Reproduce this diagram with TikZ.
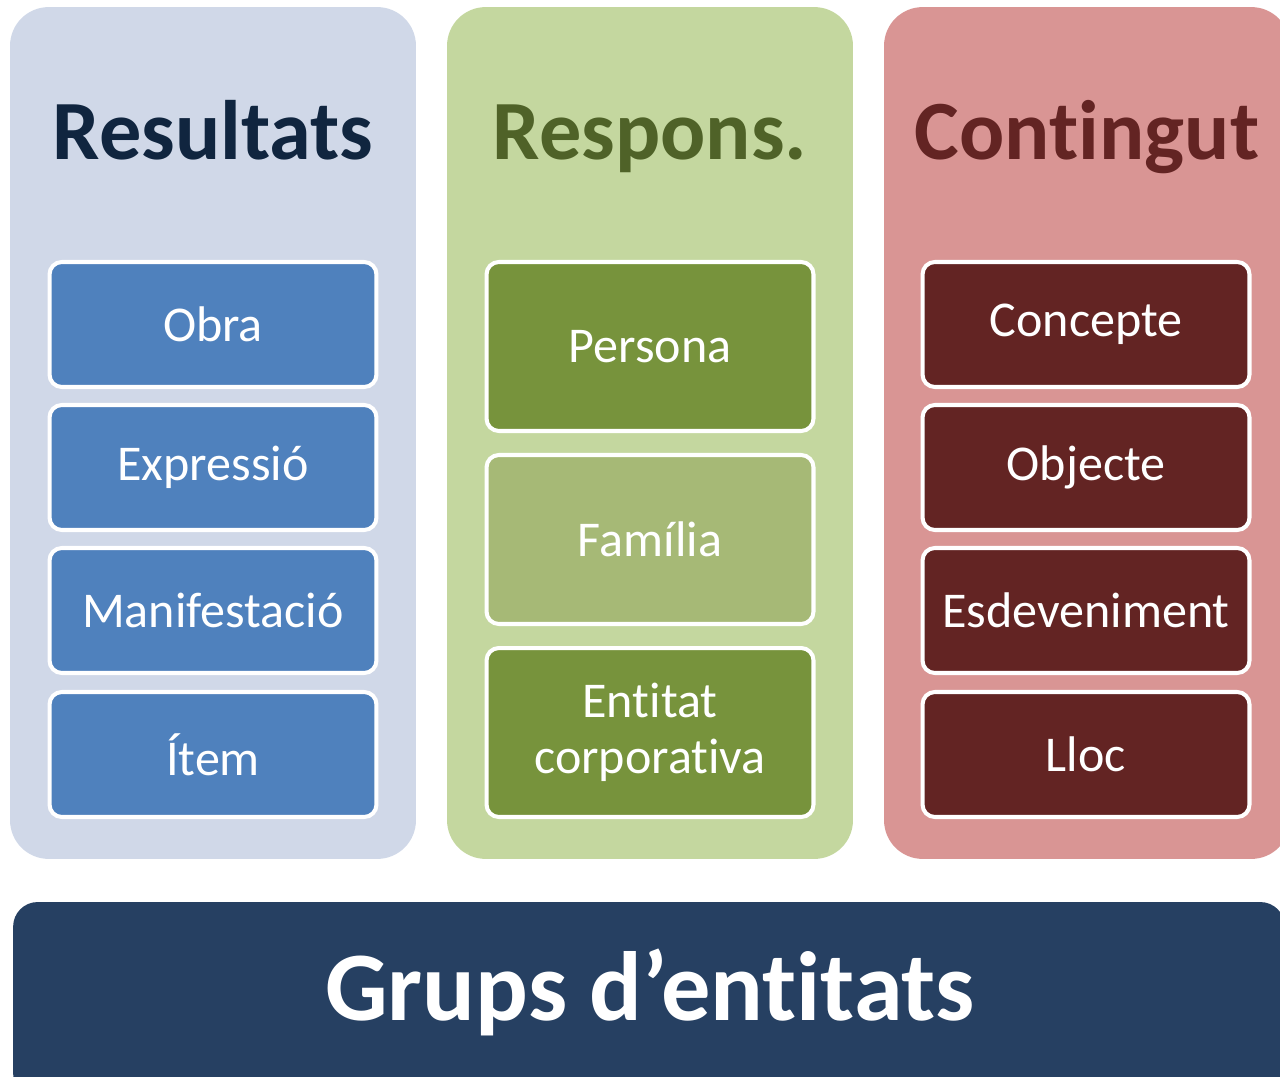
\documentclass[tikz,border=0pt]{standalone}
\usepackage{fontspec}
\setmainfont{Carlito}[Ligatures={NoCommon,NoRare,NoContextual}, RawFeature={-liga;-dlig;-calt;-clig}]
\usepackage{tikz}
\definecolor{resbg}{HTML}{D0D8E8}
\definecolor{resbox}{HTML}{4F81BD}
\definecolor{restxt}{HTML}{10253F}
\definecolor{rspbg}{HTML}{C4D79F}
\definecolor{rspbox}{HTML}{77933C}
\definecolor{rspboxl}{HTML}{A6B976}
\definecolor{rsptxt}{HTML}{4F6228}
\definecolor{conbg}{HTML}{D99594}
\definecolor{conbox}{HTML}{632423}
\definecolor{contxt}{HTML}{632423}
\definecolor{grpbar}{HTML}{264062}

\begin{document}
\begin{tikzpicture}[x=0.02cm,y=-0.02cm,
    colbg/.style={rounded corners=22pt, minimum width=8.12cm, minimum height=17.04cm, inner sep=0pt},
    coltitle/.style={anchor=base, font=\fontsize{48}{56}\selectfont\bfseries},
    itembox/.style={draw=white, line width=2.3pt, rounded corners=7pt, minimum width=6.54cm, text=white, align=center, font=\fontsize{28.5}{32}\selectfont},
    shortbox/.style={itembox, minimum height=2.5cm},
    tallbox/.style={itembox, minimum height=3.38cm}]
  \useasboundingbox (0,0) rectangle (1280,1077);
  % column backgrounds
  \node[colbg, fill=resbg] (resultats) at (213,433) {};
  \node[colbg, fill=rspbg] (respons) at (650,433) {};
  \node[colbg, fill=conbg] (contingut) at (1087,433) {};
  % titles
  \node[coltitle, text=restxt] (tres) at (213,160) {Resultats};
  \node[coltitle, text=rsptxt] (trsp) at (650,160) {Respons.};
  \node[coltitle, text=contxt] (tcon) at (1087,160) {Contingut};
  % resultats
  \node[shortbox, fill=resbox] (obra) at (213,324.5) {Obra};
  \node[shortbox, fill=resbox] (expressio) at (213,467.5) {Expressió};
  \node[shortbox, fill=resbox] (manifestacio) at (213,610.5) {Manifestació};
  \node[shortbox, fill=resbox] (item) at (213,754.5) {Ítem};
  % responsabilitat
  \node[tallbox, fill=rspbox] (persona) at (650,346.5) {Persona};
  \node[tallbox, fill=rspboxl] (familia) at (650,539.5) {Família};
  \node[tallbox, fill=rspbox] (entitat) at (650,732.5) {Entitat\\corporativa};
  % contingut
  \node[shortbox, fill=conbox] (concepte) at (1086,324.5) {Concepte};
  \node[shortbox, fill=conbox] (objecte) at (1086,467.5) {Objecte};
  \node[shortbox, fill=conbox] (esdeveniment) at (1086,610.5) {Esdeveniment};
  \node[shortbox, fill=conbox] (lloc) at (1086,754.5) {Lloc};
  % bottom bar
  \node[fill=grpbar, rounded corners=14pt, minimum width=25.44cm, minimum height=3.92cm, inner sep=0pt] (grups) at (649,1000) {};
  \node[anchor=base, text=white, font=\fontsize{56}{62}\selectfont\bfseries] (tgrups) at (650,1020) {Grups d’entitats};
\end{tikzpicture}
\end{document}
